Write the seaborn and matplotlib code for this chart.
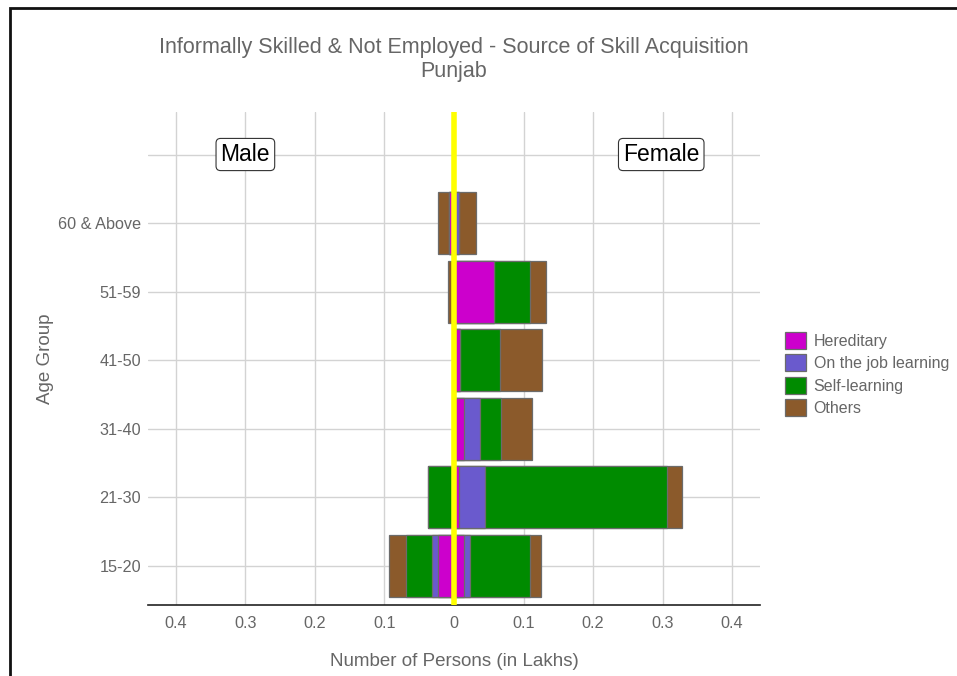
import numpy as np
import pandas as pd
import matplotlib
matplotlib.use("Agg")
import matplotlib.pyplot as plt
from matplotlib.patches import Patch, Rectangle
from matplotlib.ticker import FixedLocator, FuncFormatter
import seaborn as sns

# Age groups, bottom to top of the chart
age_groups = ["15-20", "21-30", "31-40", "41-50", "51-59", "60 & Above"]

# Persons (in lakhs) by source of skill acquisition
male_hereditary = [0.023, 0.0, 0.0, 0.0, 0.0, 0.007]
male_on_job = [0.009, 0.0, 0.0, 0.0, 0.0, 0.0]
male_self = [0.037, 0.038, 0.0, 0.0, 0.0, 0.0]
male_others = [0.024, 0.0, 0.0, 0.0, 0.008, 0.016]

female_hereditary = [0.015, 0.007, 0.015, 0.008, 0.058, 0.0]
female_on_job = [0.008, 0.037, 0.022, 0.0, 0.0, 0.007]
female_self = [0.086, 0.262, 0.030, 0.058, 0.051, 0.0]
female_others = [0.016, 0.022, 0.045, 0.060, 0.024, 0.024]

sources = ["Hereditary", "On the job learning", "Self-learning", "Others"]
colors = ["#CC00CC", "#6A5ACD", "#008B00", "#8B5A2B"]

x_ticks = [-0.4, -0.3, -0.2, -0.1, 0, 0.1, 0.2, 0.3, 0.4]

male = pd.DataFrame({"Age Group": age_groups, "Hereditary": male_hereditary,
                     "On the job learning": male_on_job,
                     "Self-learning": male_self, "Others": male_others})
female = pd.DataFrame({"Age Group": age_groups, "Hereditary": female_hereditary,
                       "On the job learning": female_on_job,
                       "Self-learning": female_self, "Others": female_others})

sns.set_theme(style="white")
plt.rcParams["font.family"] = ["Liberation Sans", "DejaVu Sans"]
grey_text = "#666666"

fig = plt.figure(figsize=(9.57, 6.76), dpi=100)
ax = fig.add_axes([148 / 957, 1 - 605 / 676, (760 - 148) / 957, (605 - 112) / 676])

# blank top row holds the Male / Female labels
order = [""] + age_groups[::-1]

# stacked bars: draw cumulative totals from outermost segment inward
for side, sign in ((male, -1), (female, 1)):
    for k in range(len(sources), 0, -1):
        cum = side[sources[:k]].sum(axis=1) * sign
        sns.barplot(x=cum.values, y=side["Age Group"].values, order=order,
                    orient="h", color=colors[k - 1], saturation=1,
                    edgecolor="#6b6b6b", linewidth=0.9, width=0.9, ax=ax)

ax.axvline(0, color="#FFFF00", linewidth=4, zorder=5)

ax.set_xlim(-0.44, 0.44)
ax.set_ylim(6.57, -0.62)
ax.xaxis.set_major_locator(FixedLocator(x_ticks))
ax.xaxis.set_major_formatter(FuncFormatter(
    lambda v, p: "0" if abs(v) < 1e-9 else f"{abs(v):.1f}"))

ax.grid(True, color="#d3d3d3", linewidth=1)
ax.set_axisbelow(True)
for s in ("top", "right", "left"):
    ax.spines[s].set_visible(False)
ax.spines["bottom"].set_color("#222222")
ax.spines["bottom"].set_linewidth(1.2)
ax.tick_params(axis="both", length=0, labelsize=11.7, labelcolor=grey_text)
ax.tick_params(axis="y", pad=5)
ax.tick_params(axis="x", pad=8)

ax.set_xlabel("Number of Persons (in Lakhs)", fontsize=13.5, color=grey_text, va="center")
ax.xaxis.set_label_coords(0.5, (605 - 661) / 493)
ax.set_ylabel("Age Group", fontsize=13.5, color=grey_text, va="center")
ax.yaxis.set_label_coords((46 - 148) / 612, 0.5)

box = dict(boxstyle="round,pad=0.2,rounding_size=0.2", facecolor="white",
           edgecolor="#333333", linewidth=0.8)
ax.text(-0.3, 0, "Male", fontsize=16.5, color="black", ha="center", va="center", bbox=box, zorder=6)
ax.text(0.298, 0, "Female", fontsize=16.5, color="black", ha="center", va="center", bbox=box, zorder=6)

fig.text(454 / 957, 1 - 47 / 676, "Informally Skilled & Not Employed - Source of Skill Acquisition",
         ha="center", va="center", fontsize=15.5, color=grey_text)
fig.text(454 / 957, 1 - 71 / 676, "Punjab",
         ha="center", va="center", fontsize=15.5, color=grey_text)

handles = [Patch(facecolor=c, edgecolor="#6b6b6b", linewidth=0.9, label=s)
           for s, c in zip(sources, colors)]
fig.legend(handles=handles, loc="center left", bbox_to_anchor=(785 / 957, 1 - 374 / 676),
           frameon=False, fontsize=11.5, labelcolor=grey_text, handlelength=1.3,
           handleheight=1.3, labelspacing=0.32, handletextpad=0.5, borderpad=0,
           borderaxespad=0)

# outer frame around the figure
fig.patches.append(Rectangle((10 / 957, -0.2), 1.5, 1.2 - 8 / 676, transform=fig.transFigure,
                             fill=False, edgecolor="#111111", linewidth=2))

fig.savefig("out.png", dpi=100)
